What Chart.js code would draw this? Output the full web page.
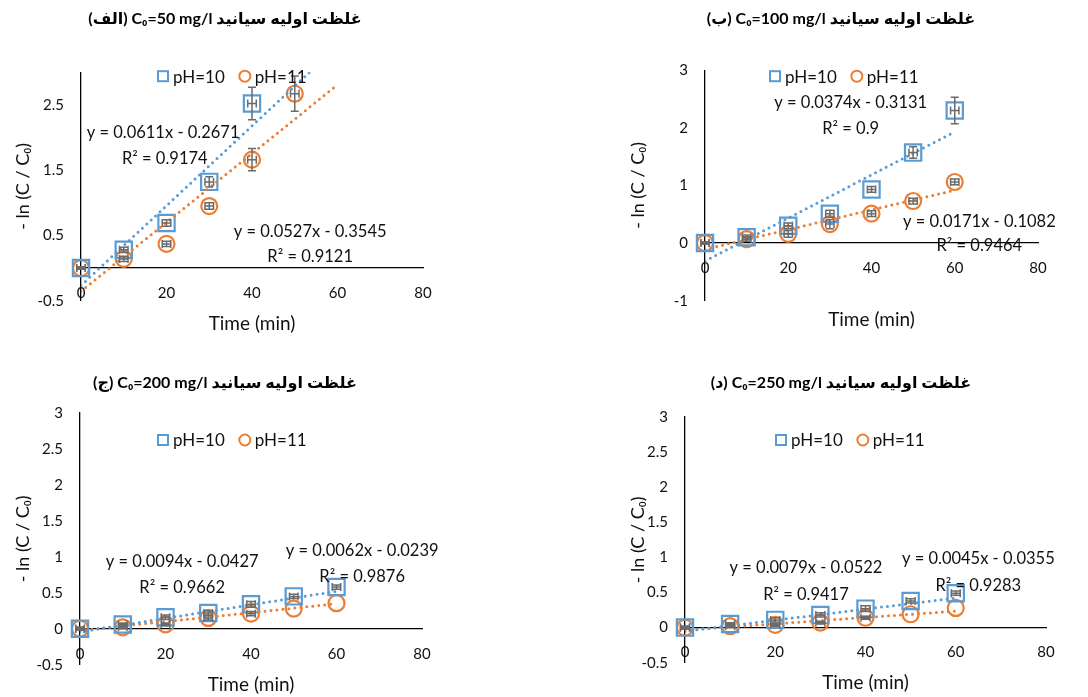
<!DOCTYPE html>
<html>
<head>
<meta charset="utf-8">
<script src="https://cdn.jsdelivr.net/npm/chart.js@4.4.1/dist/chart.umd.min.js"></script>
<style>
  body { margin: 0; background: #fff; width: 1088px; height: 697px; position: relative; overflow: hidden; }
  .panel { position: absolute; }
</style>
</head>
<body>
<div class="panel" style="left:0;top:0;width:450px;height:345px"><canvas id="cA"></canvas></div>
<div class="panel" style="left:594px;top:0;width:494px;height:345px"><canvas id="cB"></canvas></div>
<div class="panel" style="left:0;top:360px;width:450px;height:337px"><canvas id="cC"></canvas></div>
<div class="panel" style="left:594px;top:360px;width:494px;height:337px"><canvas id="cD"></canvas></div>
<script>
// ── data ──
const TIME = [0, 10, 20, 30, 40, 50, 60];
const X_TICKS = [0, 20, 40, 60, 80];
const X_ERR = 1;            // minutes, horizontal error bar
const TREND_X = [0, 60];    // trendline drawn over this time span

// (الف) C0 = 50 mg/l
const A_PH10 = [0, 0.28, 0.69, 1.32, 2.52];
const A_PH10_ERR = [0.02, 0.04, 0.05, 0.08, 0.25];
const A_PH11 = [0, 0.14, 0.37, 0.95, 1.66, 2.67];
const A_PH11_ERR = [0.02, 0.04, 0.04, 0.05, 0.17, 0.27];
const A_YTICKS = [-0.5, 0.5, 1.5, 2.5];

// (ب) C0 = 100 mg/l
const B_PH10 = [0, 0.10, 0.30, 0.51, 0.93, 1.57, 2.30];
const B_PH10_ERR = [0.02, 0.04, 0.05, 0.06, 0.05, 0.10, 0.23];
const B_PH11 = [0, 0.07, 0.16, 0.33, 0.51, 0.73, 1.06];
const B_PH11_ERR = [0.02, 0.04, 0.06, 0.08, 0.05, 0.05, 0.05];
const B_YTICKS = [-1, 0, 1, 2, 3];

// (ج) C0 = 200 mg/l
const C_PH10 = [0, 0.06, 0.16, 0.22, 0.34, 0.45, 0.58];
const C_PH10_ERR = [0.02, 0.02, 0.03, 0.03, 0.04, 0.03, 0.03];
const C_PH11 = [0, 0.02, 0.06, 0.15, 0.21, 0.28, 0.355];
const C_PH11_ERR = [0.02, 0.02, 0.02, 0.03, 0.03, 0, 0];
const C_YTICKS = [-0.5, 0, 0.5, 1, 1.5, 2, 2.5, 3];

// (د) C0 = 250 mg/l
const D_PH10 = [0, 0.05, 0.11, 0.18, 0.27, 0.38, 0.49];
const D_PH10_ERR = [0.02, 0.02, 0.03, 0.03, 0.04, 0.03, 0.03];
const D_PH11 = [0, 0.02, 0.04, 0.07, 0.14, 0.19, 0.28];
const D_PH11_ERR = [0.02, 0.02, 0.02, 0.02, 0.02, 0, 0];
const D_YTICKS = [-0.5, 0, 0.5, 1, 1.5, 2, 2.5, 3];

// linear fits shown on the charts (A, B, C, D)
const SLOPE_10 = [0.0611, 0.0374, 0.0094, 0.0079];
const INTER_10 = [-0.2671, -0.3131, -0.0427, -0.0522];
const R2_10 = [0.9174, 0.9, 0.9662, 0.9417];
const SLOPE_11 = [0.0527, 0.0171, 0.0062, 0.0045];
const INTER_11 = [-0.3545, -0.1082, -0.0239, -0.0355];
const R2_11 = [0.9121, 0.9464, 0.9876, 0.9283];

const TITLES = [
    'غلظت اولیه سیانید C₀=50 mg/l (الف)',
    'غلظت اولیه سیانید C₀=100 mg/l (ب)',
    'غلظت اولیه سیانید C₀=200 mg/l (ج)',
    'غلظت اولیه سیانید C₀=250 mg/l (د)',
];
const SERIES = ['pH=10', 'pH=11'];

// ── style ──
const BLUE = '#5B9BD5';
const ORANGE = '#ED7D31';
const ERR = '#6b6b6b';
const TEXT = '#111';
const FONT = 'Lato, "Liberation Sans", "DejaVu Sans", sans-serif';

Chart.defaults.font.family = FONT;
Chart.defaults.color = TEXT;

// ── extra drawing: error bars, legend, fit equations ──
function makeExtras(cfg) {
    return {
        id: 'extras',
        afterDatasetsDraw(chart) {
            const { ctx, scales: { x, y } } = chart;
            ctx.save();
            ctx.strokeStyle = ERR;
            ctx.lineWidth = 1.5;
            chart.data.datasets.forEach(ds => {
                if (!ds.errY) return;
                ds.data.forEach((p, i) => {
                    const e = ds.errY[i];
                    if (!e) return;
                    const px = x.getPixelForValue(p.x), py = y.getPixelForValue(p.y);
                    const top = y.getPixelForValue(p.y + e), bot = y.getPixelForValue(p.y - e);
                    const l = x.getPixelForValue(p.x - X_ERR), r = x.getPixelForValue(p.x + X_ERR);
                    ctx.beginPath();
                    ctx.moveTo(px, top); ctx.lineTo(px, bot);
                    ctx.moveTo(px - 4, top); ctx.lineTo(px + 4, top);
                    ctx.moveTo(px - 4, bot); ctx.lineTo(px + 4, bot);
                    ctx.moveTo(l, py); ctx.lineTo(r, py);
                    ctx.moveTo(l, py - 4); ctx.lineTo(l, py + 4);
                    ctx.moveTo(r, py - 4); ctx.lineTo(r, py + 4);
                    ctx.stroke();
                });
            });
            ctx.restore();
        },
        afterDraw(chart) {
            const { ctx, chartArea, scales: { x, y } } = chart;
            ctx.save();
            // legend
            ctx.font = '17px ' + FONT;
            ctx.textBaseline = 'middle';
            ctx.textAlign = 'left';
            let cx = chartArea.left + cfg.legend[0], cy = chartArea.top + cfg.legend[1];
            chart.data.datasets.filter(d => d.inLegend).forEach(d => {
                ctx.strokeStyle = d.borderColor;
                ctx.lineWidth = 2;
                if (d.pointStyle === 'rect') {
                    ctx.strokeRect(cx - 5, cy - 5, 10, 10);
                } else {
                    ctx.beginPath();
                    ctx.arc(cx, cy, 5.5, 0, Math.PI * 2);
                    ctx.stroke();
                }
                ctx.fillStyle = TEXT;
                ctx.fillText(d.label, cx + 10, cy + 1);
                cx += 10 + ctx.measureText(d.label).width + 20;
            });
            // fit equations
            ctx.font = '16.5px ' + FONT;
            ctx.textAlign = 'center';
            cfg.eqs.forEach(q => {
                ctx.fillText(q.text, x.getPixelForValue(q.at[0]), y.getPixelForValue(q.at[1]));
            });
            ctx.restore();
        }
    };
}

function eqText(s, b) {
    return 'y = ' + s + 'x ' + (b < 0 ? '- ' : '+ ') + Math.abs(b);
}

// ── chart factory ──
function makePanel(i, cfg) {
    const pts = (vals) => vals.map((v, k) => ({ x: TIME[k], y: v }));
    const trend = (s, b) => TREND_X.map(t => ({ x: t, y: s * t + b }));
    const marker = (label, vals, err, color, style, radius) => ({
        label, data: pts(vals), errY: err, inLegend: true,
        pointStyle: style, pointRadius: radius, pointBorderWidth: 2.2,
        borderColor: color, backgroundColor: 'transparent', showLine: false, clip: false,
    });
    const line = (s, b, color) => ({
        data: trend(s, b), showLine: true, pointRadius: 0,
        borderColor: color, borderWidth: 3, borderDash: [0, 6], borderCapStyle: 'round', clip: 0,
    });

    cfg.eqs = [
        { text: eqText(SLOPE_10[i], INTER_10[i]), at: cfg.eqAt[0] },
        { text: 'R² = ' + R2_10[i], at: cfg.eqAt[1] },
        { text: eqText(SLOPE_11[i], INTER_11[i]), at: cfg.eqAt[2] },
        { text: 'R² = ' + R2_11[i], at: cfg.eqAt[3] },
    ];

    return new Chart(document.getElementById(cfg.id), {
        type: 'scatter',
        data: {
            datasets: [
                line(SLOPE_10[i], INTER_10[i], BLUE),
                line(SLOPE_11[i], INTER_11[i], ORANGE),
                marker(SERIES[0], cfg.ph10, cfg.err10, BLUE, 'rect', 11.5),
                marker(SERIES[1], cfg.ph11, cfg.err11, ORANGE, 'circle', 8),
            ]
        },
        options: {
            responsive: true,
            maintainAspectRatio: false,
            animation: false,
            layout: { padding: 0 },
            plugins: {
                legend: { display: false },
                tooltip: { enabled: false },
                title: {
                    display: true,
                    text: '\u202B' + TITLES[i] + '\u202C',
                    font: { size: 16, weight: 'bold', family: FONT },
                    color: '#000',
                    padding: { top: cfg.titlePad[0], bottom: cfg.titlePad[1] },
                },
                subtitle: {
                    display: true,
                    position: 'bottom',
                    fullSize: false,
                    text: 'Time (min)',
                    font: { size: 19, family: FONT },
                    color: TEXT,
                    padding: { top: cfg.subPad[0], bottom: cfg.subPad[1] },
                },
            },
            scales: {
                x: {
                    type: 'linear',
                    position: { y: 0 },
                    min: 0, max: 80,
                    afterBuildTicks: s => { s.ticks = X_TICKS.map(v => ({ value: v })); },
                    grid: { display: false, drawTicks: false },
                    border: { display: true, color: '#000', width: 1.3 },
                    ticks: { font: { size: 15 }, color: TEXT, padding: 16, maxRotation: 0, callback: v => String(v) },
                },
                y: {
                    type: 'linear',
                    position: 'left',
                    min: cfg.yTicks[0], max: 3,
                    afterBuildTicks: s => { s.ticks = cfg.yTicks.map(v => ({ value: v })); },
                    afterFit: s => { s.width = cfg.yAxisW; },
                    grid: { display: false, drawTicks: false },
                    border: { display: true, color: '#000', width: 1.3 },
                    ticks: { font: { size: 15 }, color: TEXT, padding: 17, callback: v => String(v) },
                    title: {
                        display: true, text: '- ln (C / C₀)',
                        font: { size: 18 }, color: TEXT,
                        padding: { top: cfg.yTitlePad, bottom: 0 },
                    },
                },
                // empty right-hand box, only reserves room so the title stays centred on the canvas
                yR: {
                    type: 'linear',
                    position: 'right',
                    afterFit: s => { s.width = cfg.padRight; },
                    grid: { display: false, drawTicks: false },
                    border: { display: false },
                    ticks: { display: false },
                },
            },
        },
        plugins: [makeExtras(cfg)],
    });
}

makePanel(0, {
    id: 'cA', ph10: A_PH10, err10: A_PH10_ERR, ph11: A_PH11, err11: A_PH11_ERR, yTicks: A_YTICKS,
    yAxisW: 81, padRight: 27, titlePad: [9, 44], subPad: [11.5, 10], yTitlePad: 12,
    legend: [82, 4], eqAt: [[19.2, 2.08], [19.6, 1.68], [53.6, 0.55], [53.6, 0.17]],
});
makePanel(1, {
    id: 'cB', ph10: B_PH10, err10: B_PH10_ERR, ph11: B_PH11, err11: B_PH11_ERR, yTicks: B_YTICKS,
    yAxisW: 111, padRight: 50, titlePad: [9, 42], subPad: [7.3, 14.2], yTitlePad: 33,
    legend: [70, 6], eqAt: [[35.0, 2.44], [35.0, 1.99], [65.9, 0.38], [65.9, -0.05]],
});
makePanel(2, {
    id: 'cC', ph10: C_PH10, err10: C_PH10_ERR, ph11: C_PH11, err11: C_PH11_ERR, yTicks: C_YTICKS,
    yAxisW: 80, padRight: 28, titlePad: [13.5, 20.3], subPad: [8.3, 1.2], yTitlePad: 12,
    legend: [83, 27], eqAt: [[23.9, 0.93], [23.9, 0.57], [66.0, 1.08], [66.0, 0.72]],
});
makePanel(3, {
    id: 'cD', ph10: D_PH10, err10: D_PH10_ERR, ph11: D_PH11, err11: D_PH11_ERR, yTicks: D_YTICKS,
    yAxisW: 91, padRight: 42, titlePad: [13.5, 24.3], subPad: [8.3, 3.2], yTitlePad: 33,
    legend: [96, 23], eqAt: [[26.8, 0.85], [26.8, 0.47], [65.0, 0.98], [65.0, 0.6]],
});
</script>
</body>
</html>
